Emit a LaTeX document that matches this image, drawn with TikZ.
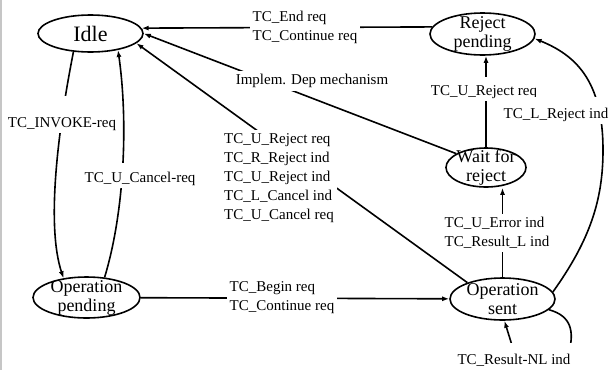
\documentclass[tikz,border=0pt]{standalone}
\usepackage{fontspec}
\setmainfont{Liberation Serif}
\usetikzlibrary{shapes.geometric,arrows.meta}

\tikzset{
  state/.style={draw, ellipse, line width=1.6pt, inner sep=0pt},
  stxt/.style={font=\fontsize{18}{19}\selectfont, align=center, inner sep=0pt},
  lbl/.style={fill=white, inner sep=3pt, align=left, font=\fontsize{15}{19}\selectfont},
  conn/.style={line width=1.6pt},
  arr/.style={-{Latex[length=7pt,width=5pt]}}
}

\begin{document}
\begin{tikzpicture}[x=1pt,y=1pt,yscale=-1]
\useasboundingbox (0,0) rectangle (609,370);
\draw[gray!45, line width=2pt] (1,0) -- (1,370);

% states
\node[state, minimum width=105pt, minimum height=37pt,
  label={[stxt, font=\fontsize{22}{24}\selectfont]center:Idle}] (idle) at (90.5,33.5) {};
\node[state, minimum width=105pt, minimum height=42pt,
  label={[stxt]center:Reject\\pending}] (rejpend) at (482.5,34) {};
\node[state, minimum width=80pt, minimum height=39pt,
  label={[stxt]center:Wait for\\reject}] (waitrej) at (486,167.5) {};
\node[state, minimum width=107pt, minimum height=41pt,
  label={[stxt]center:Operation\\pending}] (oppend) at (86.5,297.5) {};
\node[state, minimum width=105pt, minimum height=42pt,
  label={[stxt]center:Operation\\sent}] (opsent) at (502.5,299) {};

% transitions
\draw[conn, arr] (idle.-133) .. controls (58,130) and (46,225) .. (oppend.140);
\draw[conn, arr] (oppend.48) .. controls (125,210) and (128,120) .. (idle.-31);
\draw[conn, arr] (oppend) -- (opsent);
\draw[conn, arr] (opsent.155) -- (idle.-12);
\draw[conn, arr] (rejpend.172) -- (idle.6);
\draw[conn, arr] (waitrej.155) -- (idle.0);
\draw[conn, arr] (waitrej.north) -- (waitrej.north |- rejpend.south);
\draw[conn, arr] (opsent.north) -- (opsent.north |- waitrej.south);
\draw[conn, arr] (opsent.8) .. controls (590,240) and (603,200) .. (603,150)
  .. controls (603,80) and (575,55) .. (rejpend.-5);
\draw[conn, arr] (opsent.-13) .. controls (572,316) and (574,332) .. (569,352)
  .. controls (565,366) and (520,366) .. (515,355) -- (opsent.-85);

% labels
\node[lbl] (endlbl) at (305,27) {TC\_End req\\TC\_Continue req};
\node[lbl] (impllbl) at (312,81) {Implem. Dep mechanism};
\node[lbl] (canclbl) at (279,178) {TC\_U\_Reject req\\TC\_R\_Reject ind\\TC\_U\_Reject ind\\TC\_L\_Cancel ind\\TC\_U\_Cancel req};
\node[lbl] (beginlbl) at (282,298) {TC\_Begin req\\TC\_Continue req};
\node[lbl, anchor=base, text height=28pt] (invlbl) at (62,127) {TC\_INVOKE-req};
\node[lbl, anchor=base, text height=16pt] (ucanlbl) at (140,182) {TC\_U\_Cancel-req};
\node[lbl, anchor=base, text height=15pt] (urejlbl) at (484,95) {TC\_U\_Reject req};
\node[lbl] (errlbl) at (497,233) {TC\_U\_Error ind\\TC\_Result\_L ind};
\node[lbl, anchor=base, text height=18pt] (lrejlbl) at (556,118) {TC\_L\_Reject ind};
\node[lbl, anchor=base, text height=18pt] (nllbl) at (514,364) {TC\_Result-NL ind};

\end{tikzpicture}
\end{document}
